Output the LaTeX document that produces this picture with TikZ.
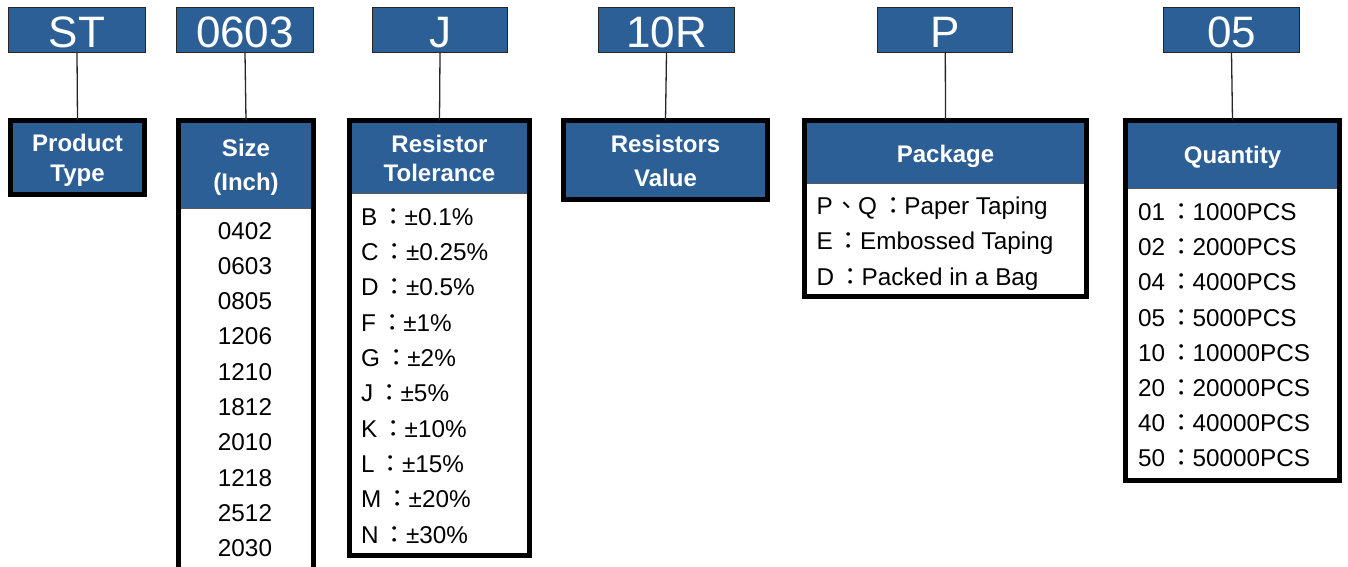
\documentclass[tikz,border=0pt]{standalone}
\usepackage{fontspec}
\setmainfont{Liberation Sans}
\newfontfamily\cjk{Noto Sans CJK TC}
\newcommand\fwc{\hspace{4pt}{\cjk ：}\hspace{-1pt}}
\newcommand\dunh{\hspace{2pt}{\cjk 、}\hspace{-1pt}}
\definecolor{hb}{RGB}{45,95,151}
\begin{document}
\begin{tikzpicture}[x=1pt,y=-1pt,
  topbox/.style={draw=black!85, line width=1.3pt, fill=hb, minimum height=45pt, inner sep=0pt},
  toptxt/.style={anchor=base, inner sep=0pt, text=white, font=\fontsize{44}{50}\selectfont},
  hdr/.style={fill=hb, inner sep=0pt},
  htxt/.style={anchor=base, inner sep=0pt, text=white, font=\fontsize{24}{28}\selectfont\bfseries},
  item/.style={anchor=base west, inner sep=0pt, font=\fontsize{24.3}{28}\selectfont},
  citem/.style={anchor=base, inner sep=0pt, font=\fontsize{24.3}{28}\selectfont},
  outer/.style={draw=black, line width=5pt},
  sep/.style={draw=black!65, line width=1pt},
  conn/.style={draw=black!85, line width=1.3pt}]
\useasboundingbox (0,0) rectangle (1348,566);

% ---- top code boxes
\node[topbox, minimum width=137pt] (st) at (77,30) {};
\node[toptxt] (stT) at (77,47.5) {ST};
\node[topbox, minimum width=137pt] (sz) at (245,30) {};
\node[toptxt] (szT) at (245,47.5) {0603};
\node[topbox, minimum width=135pt] (tl) at (440,30) {};
\node[toptxt] (tlT) at (440,47.5) {J};
\node[topbox, minimum width=136pt] (rv) at (666.5,30) {};
\node[toptxt] (rvT) at (666.5,47.5) {10R};
\node[topbox, minimum width=135pt] (pk) at (945.3,30) {};
\node[toptxt] (pkT) at (945.3,47.5) {P};
\node[topbox, minimum width=136pt] (qt) at (1231.5,30) {};
\node[toptxt] (qtT) at (1231.5,47.5) {05};

% ---- Product Type
\node[hdr, minimum width=134pt, minimum height=74pt] (ptH) at (77.5,157.5) {};
\node[htxt] (ptT1) at (77.5,151.7) {Product};
\node[htxt] (ptT2) at (77.5,181.7) {Type};
\draw[outer] (ptH.north west) rectangle (ptH.south east);

% ---- Size
\node[hdr, minimum width=135pt, minimum height=87.5pt] (szH) at (246,164.25) {};
\node[htxt] (szT1) at (246,156) {Size};
\node[htxt] (szT2) at (246,190) {(Inch)};
\coordinate (szB) at (313.5,572);
\draw[sep] (szH.south west) -- (szH.south east);
\draw[outer] (szH.north west) rectangle (szB);
\foreach \t [count=\i from 0] in {0402,0603,0805,1206,1210,1812,2010,1218,2512,2030}
  \node[citem] (sz\i) at (245,239+35.3*\i) {\t};

% ---- Resistor Tolerance
\node[hdr, minimum width=180pt, minimum height=72.5pt] (tlH) at (439.5,156.75) {};
\node[htxt] (tlT1) at (439.5,152.7) {Resistor};
\node[htxt] (tlT2) at (439.5,181.7) {Tolerance};
\coordinate (tlB) at (529.5,555.5);
\draw[sep] (tlH.south west) -- (tlH.south east);
\draw[outer] (tlH.north west) rectangle (tlB);
\foreach \t [count=\i from 0] in {B\fwc ±0.1\%, C\fwc ±0.25\%, D\fwc ±0.5\%, F\fwc ±1\%, G\fwc ±2\%, J\fwc ±5\%, K\fwc ±10\%, L\fwc ±15\%, M\fwc ±20\%, N\fwc ±30\%}
  \node[item] (tl\i) at (361,225+35.37*\i) {\t};

% ---- Resistors Value
\node[hdr, minimum width=204pt, minimum height=79pt] (rvH) at (665.5,160) {};
\node[htxt] (rvT1) at (665.5,152) {Resistors};
\node[htxt] (rvT2) at (665.5,186.7) {Value};
\draw[outer] (rvH.north west) rectangle (rvH.south east);

% ---- Package
\node[hdr, minimum width=282pt, minimum height=62.5pt] (pkH) at (945.5,151.75) {};
\node[htxt] (pkT1) at (945.5,162.3) {Package};
\coordinate (pkB) at (1086.5,296.5);
\draw[sep] (pkH.south west) -- (pkH.south east);
\draw[outer] (pkH.north west) rectangle (pkB);
\node[item] (pk0) at (816.5,214) {P\dunh Q\fwc Paper Taping};
\node[item] (pk1) at (816.5,249.5) {E\fwc Embossed Taping};
\node[item] (pk2) at (816.5,285) {D\fwc Packed in a Bag};

% ---- Quantity
\node[hdr, minimum width=214pt, minimum height=67.5pt] (qtH) at (1232.5,154.25) {};
\node[htxt] (qtT1) at (1232.5,163) {Quantity};
\coordinate (qtB) at (1339.5,480.5);
\draw[sep] (qtH.south west) -- (qtH.south east);
\draw[outer] (qtH.north west) rectangle (qtB);
\foreach \a/\b [count=\i from 0] in {01/1000,02/2000,04/4000,05/5000,10/10000,20/20000,40/40000,50/50000}
  \node[item] (qt\i) at (1138,220.7+35.14*\i) {\a\fwc\b PCS};

% ---- connectors
\draw[conn] (st.south) -- (ptH.north);
\draw[conn] (sz.south) -- (szH.north);
\draw[conn] (tl.south) -- (tlH.north);
\draw[conn] (rv.south) -- (rvH.north);
\draw[conn] (pk.south) -- (pkH.north);
\draw[conn] (qt.south) -- (qtH.north);
\end{tikzpicture}
\end{document}
